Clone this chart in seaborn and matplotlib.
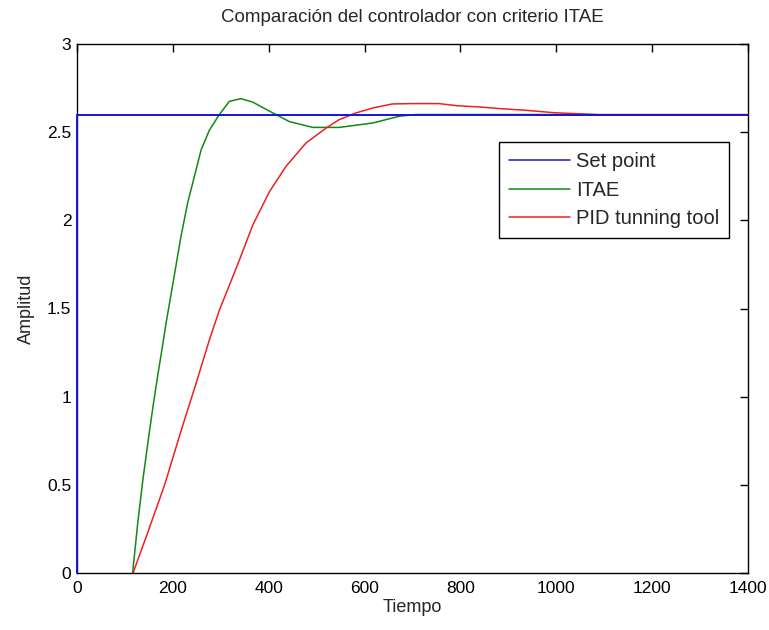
import matplotlib
matplotlib.use("Agg")
import matplotlib.pyplot as plt
import seaborn as sns
import pandas as pd

# ---- data ----
t_sp = [0, 0, 1400]
y_sp = [0, 2.6, 2.6]

t_itae = [116, 127, 137.5, 151.5, 160, 169, 178, 186, 200, 217, 231, 245, 259, 276, 297, 318,
          342, 367, 401, 443, 492, 547, 617, 672, 707, 800, 900, 1000, 1083]
y_itae = [0, 0.29, 0.53, 0.81, 0.97, 1.13, 1.28, 1.42, 1.64, 1.91, 2.10, 2.25, 2.40, 2.51, 2.60, 2.675,
          2.69, 2.67, 2.62, 2.56, 2.527, 2.527, 2.552, 2.59, 2.60, 2.60, 2.60, 2.60, 2.60]

t_pid = [117, 145, 179, 186, 200, 221, 249, 276, 297, 322, 339, 367, 401, 436, 478, 520,
         547, 582, 617, 658, 700, 755, 793, 839, 885, 937, 997, 1083, 1200, 1400]
y_pid = [0, 0.21, 0.47, 0.528, 0.654, 0.84, 1.08, 1.32, 1.49, 1.66, 1.776, 1.975, 2.16, 2.306, 2.439, 2.524,
         2.571, 2.609, 2.637, 2.66, 2.662, 2.662, 2.65, 2.643, 2.633, 2.624, 2.61, 2.60, 2.60, 2.60]

series_names = ["Set point", "ITAE", "PID tunning tool"]
x_ticks = [0, 200, 400, 600, 800, 1000, 1200, 1400]
y_ticks = [0, 0.5, 1, 1.5, 2, 2.5, 3]
y_tick_labels = ["0", "0.5", "1", "1.5", "2", "2.5", "3"]
title = "Comparación del controlador con criterio ITAE"
xlabel = "Tiempo"
ylabel = "Amplitud"

sns.set_style("white")
plt.rcParams["font.family"] = ["Liberation Sans", "DejaVu Sans"]

df = pd.concat([
    pd.DataFrame({"t": t_sp, "y": y_sp, "serie": series_names[0]}),
    pd.DataFrame({"t": t_itae, "y": y_itae, "serie": series_names[1]}),
    pd.DataFrame({"t": t_pid, "y": y_pid, "serie": series_names[2]}),
], ignore_index=True)

colors = {"Set point": "#1414d8", "ITAE": "#108a10", "PID tunning tool": "#ee2020"}

fig = plt.figure(figsize=(7.69, 6.30), dpi=100)
ax = fig.add_axes([77 / 769, (630 - 573) / 630, (748 - 77) / 769, (573 - 44) / 630])

sns.lineplot(data=df, x="t", y="y", hue="serie", palette=colors, estimator=None,
             sort=False, units="serie", linewidth=1.1, ax=ax, legend=True)
# set-point line drawn above the frame, like the reference
ax.lines[0].set_zorder(3)
ax.lines[0].set_clip_on(False)
ax.lines[0].set_linewidth(1.4)

ax.set_xlim(0, 1400)
ax.set_ylim(0, 3)
ax.set_xticks(x_ticks)
ax.set_xticklabels([str(v) for v in x_ticks])
ax.set_yticks(y_ticks)
ax.set_yticklabels(y_tick_labels)
ax.tick_params(direction="in", length=6, width=1, top=True, right=True,
               labelsize=12.5, colors="black")
ax.tick_params(axis="x", pad=6)
ax.tick_params(axis="y", pad=4)
for s in ax.spines.values():
    s.set_visible(True)
    s.set_color("black")
    s.set_linewidth(1)

ax.set_title(title, fontsize=13.5, pad=16)
ax.set_xlabel(xlabel, fontsize=13, labelpad=2)
ax.set_ylabel(ylabel, fontsize=13, labelpad=9)

leg = ax.legend(loc="upper right", bbox_to_anchor=(0.9717, 0.8147), fontsize=14.5,
                frameon=True, fancybox=False, handlelength=3.0, handletextpad=0.3,
                borderpad=0.5, labelspacing=0.47, borderaxespad=0)
leg.get_frame().set_edgecolor("black")
leg.get_frame().set_linewidth(1)
leg.get_frame().set_alpha(1)

fig.savefig("out.png", dpi=100)
